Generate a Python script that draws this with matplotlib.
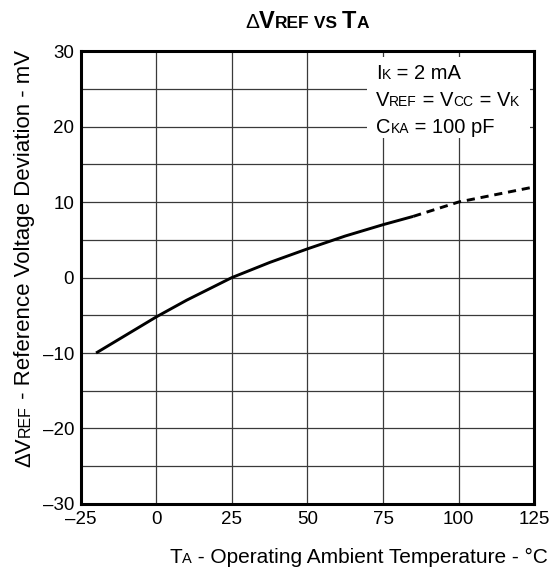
import matplotlib
matplotlib.use('Agg')
import matplotlib.pyplot as plt
import matplotlib.patches as mpatches
from matplotlib.ticker import MultipleLocator, FuncFormatter

plt.rcParams['font.family'] = ['Liberation Sans', 'DejaVu Sans']

temp_solid = [-20, -10, 0, 10, 25, 37.5, 50, 62.5, 75, 85]
dev_solid = [-10, -7.6, -5.2, -3.0, 0, 2.0, 3.8, 5.5, 7.0, 8.1]
temp_dash = [85, 100, 125]
dev_dash = [8.1, 10, 12]

x_ticks = [-25, 0, 25, 50, 75, 100, 125]
y_ticks = [-30, -20, -10, 0, 10, 20, 30]

TICK = 13.5
BIG = 14.5
SMALL = 10

fig = plt.figure(figsize=(5.6, 5.74), dpi=100)
ax = fig.add_axes([0.1446, 0.122, 0.809, 0.789])
W, H = fig.bbox.width, fig.bbox.height


def text_width(s, fs, weight):
    r = fig.canvas.get_renderer()
    t1 = fig.text(0, 0, '|' + s + '|', fontsize=fs, weight=weight)
    t2 = fig.text(0, 0, '||', fontsize=fs, weight=weight)
    w = t1.get_window_extent(r).width - t2.get_window_extent(r).width
    t1.remove()
    t2.remove()
    return w


def rich(parts, px, py, rotation=0, align='left'):
    # parts: (text, size, weight); px, py in pixels from bottom-left
    widths = [text_width(s, fs, wt) for s, fs, wt in parts]
    total = sum(widths)
    pos = {'left': 0, 'center': -total / 2, 'right': -total}[align]
    for (s, fs, wt), w in zip(parts, widths):
        if rotation == 0:
            tx, ty = px + pos, py
        else:
            tx, ty = px, py + pos
        fig.text(tx / W, ty / H, s, fontsize=fs, weight=wt, rotation=rotation,
                 rotation_mode='anchor', ha='left', va='baseline')
        pos += w


ax.plot(temp_solid, dev_solid, color='black', lw=2.1, zorder=4,
        solid_capstyle='butt')
ax.plot(temp_dash, dev_dash, color='black', lw=2.1, zorder=4,
        linestyle=(0, (2.8, 2.0)))

ax.set_xlim(-25, 125)
ax.set_ylim(-30, 30)
ax.set_xticks(x_ticks)
ax.set_yticks(y_ticks)
ax.yaxis.set_minor_locator(MultipleLocator(5))
fmt = FuncFormatter(lambda v, p: ('%d' % v).replace('-', '\u2013'))
ax.xaxis.set_major_formatter(fmt)
ax.yaxis.set_major_formatter(fmt)
ax.tick_params(which='both', length=0, labelsize=TICK, pad=5)
ax.grid(True, which='both', color='#3a3a3a', lw=0.9)
ax.set_axisbelow(True)
for sp in ax.spines.values():
    sp.set_linewidth(2.2)
    sp.set_zorder(6)

# white box behind the conditions text
ax.add_patch(mpatches.Rectangle((69.7, 18.5), 54, 10.7, facecolor='white',
                                edgecolor='none', zorder=3))

# title
rich([('\u0394', 15, 'normal'), ('V', 17, 'bold'), ('REF', 12.5, 'bold'),
      (' VS ', 12.5, 'bold'), ('T', 17, 'bold'), ('A', 12.5, 'bold')],
     245, H - 28)

# x label
rich([('T', 15, 'normal'), ('A', 10.5, 'normal'),
      (' - Operating Ambient Temperature - \u00b0C', 15, 'normal')],
     548, 11, align='right')

# y label
rich([('\u0394V', 16, 'normal'), ('REF', 11.5, 'normal'),
      (' - Reference Voltage Deviation - mV', 16, 'normal')],
     30, H - 50, rotation=90, align='right')

# conditions
rich([('I', BIG, 'normal'), ('K', SMALL, 'normal'), (' = 2 mA', BIG, 'normal')],
     376, H - 79)
rich([('V', BIG, 'normal'), ('REF', SMALL, 'normal'), (' = V', BIG, 'normal'),
      ('CC', SMALL, 'normal'), (' = V', BIG, 'normal'), ('K', SMALL, 'normal')],
     376, H - 106)
rich([('C', BIG, 'normal'), ('KA', SMALL, 'normal'), (' = 100 pF', BIG, 'normal')],
     376, H - 133)

fig.savefig('out.png', dpi=100)
